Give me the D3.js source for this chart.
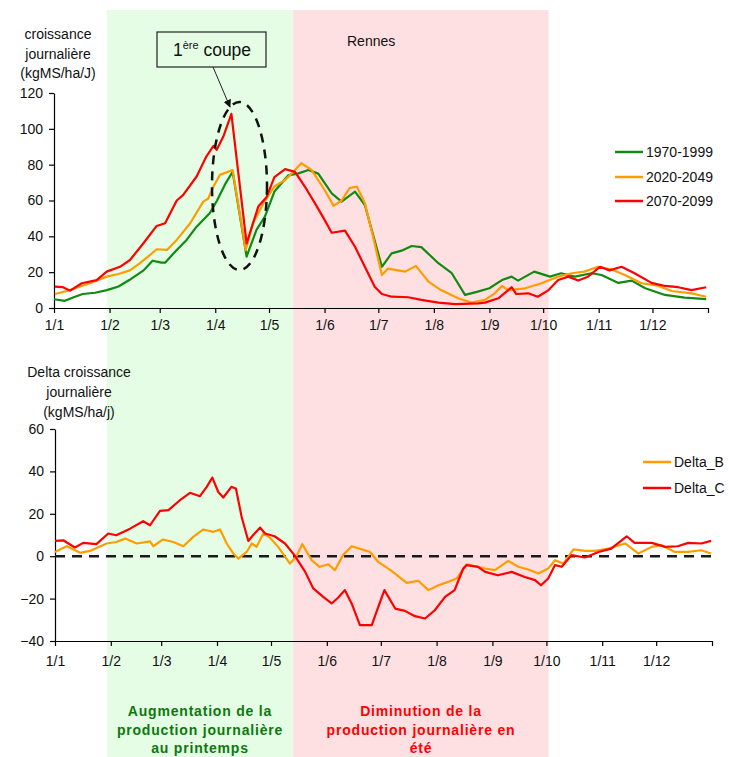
<!DOCTYPE html>
<html><head><meta charset="utf-8">
<script src="https://cdn.jsdelivr.net/npm/d3@7"></script>
<style>body{margin:0;background:#fff}svg{display:block;font-family:'Liberation Sans',Arial,sans-serif}</style>
</head><body>
<script>
// ---------- DATA ----------
const monthStarts = [0,31,59,90,120,151,181,212,243,273,304,334,365];
const monthLabels = ["1/1","1/2","1/3","1/4","1/5","1/6","1/7","1/8","1/9","1/10","1/11","1/12",""];
const topTicks = [0,20,40,60,80,100,120];
const bottomTicks = [-40,-20,0,20,40,60];
const seriesNamesTop = ["1970-1999","2020-2049","2070-2099"];
const seriesNamesBottom = ["Delta_B","Delta_C"];
const colorGreen = "#108a10", colorOrange = "#ff9d00", colorRed = "#ff0000";
const bandSpring = [29.5, 133.5];
const bandSummer = [133.5, 276];

const green1970 = [[0,4.9],[6,4],[11,6],[16,7.8],[23,8.5],[29.5,10],[36,12],[42,15.6],[50,21],[55,26.4],[60,25.3],[62,25.3],[68.5,32.4],[74,38],[79.6,45.4],[87,53],[91,60],[96,70],[99.7,76],[107.5,28.7],[113,43.6],[117.7,51],[120,57],[123,65],[130.7,74],[136,75],[142,77],[147.5,75],[155,64],[160.5,59.4],[168,65],[173.5,57.5],[177.3,43.6],[183,23],[188.4,30.5],[194,32],[199.6,34.6],[205,34],[214.5,25],[222,19.4],[229.4,7.3],[236,9],[243,11],[250,15.6],[255.4,17.5],[259,15.3],[268,20.3],[276.8,17.5],[283,19.4],[290.7,17.5],[300,19.4],[305.6,18.4],[315,14],[322.4,15.3],[330,11],[341,7.3],[352,5.8],[364,4.9]];
const orange2020 = [[0.5,7.8],[9,10],[20,13.8],[29.4,17.5],[36,19],[42.4,21],[48,25],[53.6,29.6],[57.3,32.8],[63,32.4],[68.5,38],[76,47.3],[83.3,59.4],[86,61],[89,67.8],[92.6,74.3],[99.7,77],[107,32.4],[111,47.3],[117,58.5],[123,67.8],[129,71.5],[132.6,75],[138,80.8],[143.8,77],[151,66],[156,57],[160.5,60],[165,66.9],[169,67.8],[173.5,58.5],[178,40],[183,18.4],[186.5,22],[192,21],[196,20.3],[202,23.5],[209,14.7],[216,10],[225.6,5.4],[233,3],[240.5,4.5],[246,8.2],[250,12.3],[253.5,10],[263,11],[272,13.8],[281.4,17.5],[289,19.4],[296,20.3],[303.7,23],[311,21.6],[318.6,18.4],[328,13.8],[337,12.5],[344.7,9.5],[355.8,8.2],[364,6.3]];
const red2070 = [[0.5,11.9],[5,11.6],[9,9.7],[15.5,13.8],[23.8,15.6],[29.4,20.3],[36.8,23],[42.4,26.8],[49.8,36],[57.3,45.8],[62,47.3],[68.5,60],[72,63],[79.6,73.4],[85,84.5],[89,90.5],[90.8,88.3],[94.5,95.7],[99,108.4],[107.5,36],[114,56.6],[118.7,62],[123,73],[129,77.5],[134.5,76],[140,67.8],[145.6,58.5],[150,51],[155,42],[162.4,43.2],[168,34.2],[173.5,23],[179,11.9],[183,7.8],[188.4,6.3],[197.7,6],[205,4.5],[214.5,3],[223.8,2.2],[236.8,2.6],[240.5,3],[248,5.4],[253.5,10],[255.4,11.6],[258,7.8],[264.7,8.2],[270,6.3],[276,10],[281.4,15.6],[287,17.5],[292.6,15.3],[298,17.5],[304.7,23],[310,21],[316.8,23],[324,19.4],[333.5,14],[341,12.3],[348.4,11.6],[355.8,10],[364,11.6]];
const deltaB = [[0,2],[6.5,4.7],[14,1.6],[19.4,2.5],[28.7,6],[34,6.7],[39,8.3],[45.4,6],[52.8,7],[54.6,4.7],[60,7.9],[65.7,6.7],[71.3,4.7],[76.8,9.1],[82.4,12.6],[88,11.5],[91.7,12.6],[95.4,6],[99,1.3],[101.8,-1.1],[106.5,2],[109.3,6],[112,4.4],[115.7,10.7],[119,9],[124,4.4],[130.5,-3.5],[134,-0.3],[137.4,5.7],[142.6,-1.9],[147,-5],[151.8,-3.8],[155.5,-6.6],[160,0.5],[164.8,4.7],[170.4,3.2],[175,2],[179.6,-2.7],[187,-6.9],[195.4,-12.6],[201.8,-11.6],[207.4,-16],[213,-13.7],[218.5,-12.1],[223.2,-10.5],[228.7,-3.8],[235,-5],[239,-5.8],[244.4,-6.6],[251.8,-2.2],[257.4,-5],[263,-6.3],[268.5,-8.2],[274,-5.8],[277.8,-1.9],[282.4,-3.5],[288,3.2],[294.4,2.5],[300,2.5],[307.4,3.6],[316.7,6],[324,1.3],[331.5,4.4],[337,5.2],[344.4,2],[351.8,2],[359,2.8],[364.5,1.3]];
const deltaC = [[0,7.2],[4.6,7.5],[11,4.1],[15.7,6.3],[23,5.7],[29.6,10.7],[34,9.9],[41.7,13],[49,16.5],[52.8,14.6],[58.3,21.4],[63,21.7],[69.4,26.4],[75,29.9],[80.5,28.3],[84.3,32.7],[87.4,37.1],[90.7,30.3],[93.5,27.7],[98,32.7],[100.5,31.9],[103.7,18.5],[107.4,7.2],[110,9.9],[114,13.5],[116.7,10.7],[122,9.4],[127.8,6],[133,0.5],[139,-7.4],[143.5,-15.2],[149,-19.2],[153.7,-22.3],[157.4,-19.5],[161,-16],[164.8,-22.3],[169.4,-32.5],[176,-32.5],[179.6,-23.9],[183,-16],[189,-24.7],[194.4,-25.8],[200,-28.3],[205.6,-29.4],[211,-25.5],[216.7,-19.2],[222,-16],[226.8,-5.8],[228.7,-4.2],[235,-5],[239,-7.4],[246,-9],[253.7,-7.4],[261,-9.8],[266.7,-11.3],[270,-13.7],[274,-10.5],[277.8,-4.2],[281.5,-5],[287,0.5],[294.4,-0.6],[302,2],[309,3.6],[317.6,9.4],[322,6.3],[331.5,6.3],[339,4.4],[346,4.7],[351.8,6.3],[359,6],[364.5,7.2]];

// ---------- CHART ----------
const W = 729, H = 757;
const svg = d3.select("body").append("svg").attr("width", W).attr("height", H);

const xTop = d3.scaleLinear().domain([0,365]).range([54,708]);
const yTop = d3.scaleLinear().domain([0,120]).range([308,93]);
const xBot = d3.scaleLinear().domain([0,365]).range([55,712]);
const yBot = d3.scaleLinear().domain([-40,60]).range([641,429]);

// background bands
svg.append("rect").attr("x", xTop(bandSpring[0])).attr("y", 10)
  .attr("width", xTop(bandSpring[1]) - xTop(bandSpring[0])).attr("height", H - 10).attr("fill", "#e4fde4");
svg.append("rect").attr("x", xTop(bandSummer[0])).attr("y", 10)
  .attr("width", xTop(bandSummer[1]) - xTop(bandSummer[0])).attr("height", H - 10).attr("fill", "#ffe0e2");

function styleAxis(g){
  g.selectAll("path.domain").attr("stroke","#000").attr("stroke-width",1.2);
  g.selectAll(".tick line").attr("stroke","#000").attr("stroke-width",1.2);
  g.selectAll("text").attr("font-size","14px").attr("fill","#111").attr("font-family","'Liberation Sans',Arial,sans-serif");
}

// top axes
svg.append("g").attr("transform",`translate(0,${yTop(0)})`)
  .call(d3.axisBottom(xTop).tickValues(monthStarts).tickFormat((d,i)=>monthLabels[i]).tickSize(5).tickSizeOuter(0).tickPadding(7))
  .call(styleAxis);
svg.append("g").attr("transform",`translate(${xTop(0)},0)`)
  .call(d3.axisLeft(yTop).tickValues(topTicks).tickSize(5).tickSizeOuter(0).tickPadding(6))
  .call(styleAxis);

// bottom axes
svg.append("g").attr("transform",`translate(0,${yBot(-40)})`)
  .call(d3.axisBottom(xBot).tickValues(monthStarts).tickFormat((d,i)=>monthLabels[i]).tickSize(5).tickSizeOuter(0).tickPadding(10))
  .call(styleAxis);
svg.append("g").attr("transform",`translate(${xBot(0)},0)`)
  .call(d3.axisLeft(yBot).tickValues(bottomTicks).tickSize(5).tickSizeOuter(0).tickPadding(6))
  .call(styleAxis);

// zero line bottom
svg.append("line").attr("x1", xBot(0)).attr("x2", xBot(365)).attr("y1", yBot(0)).attr("y2", yBot(0))
  .attr("stroke","#1a1a1a").attr("stroke-width",2.5).attr("stroke-dasharray","10,7");

// lines
const lineTop = d3.line().x(d=>xTop(d[0])).y(d=>yTop(d[1]));
const lineBot = d3.line().x(d=>xBot(d[0])).y(d=>yBot(d[1]));
[[green1970,colorGreen],[orange2020,colorOrange],[red2070,colorRed]].forEach(([d,c])=>{
  svg.append("path").datum(d).attr("d",lineTop).attr("fill","none").attr("stroke",c).attr("stroke-width",2.2).attr("stroke-linejoin","round");
});
[[deltaB,colorOrange],[deltaC,colorRed]].forEach(([d,c])=>{
  svg.append("path").datum(d).attr("d",lineBot).attr("fill","none").attr("stroke",c).attr("stroke-width",2.2).attr("stroke-linejoin","round");
});

// axis titles
function multiText(lines, cx, y0, dy){
  const t = svg.append("text").attr("text-anchor","middle").attr("font-size","14px").attr("fill","#111");
  lines.forEach((l,i)=>t.append("tspan").attr("x",cx).attr("y",y0+i*dy).text(l));
  return t;
}
multiText(["croissance","journalière","(kgMS/ha/J)"], 58, 39, 19.5);
multiText(["Delta croissance","journalière","(kgMS/ha/j)"], 79, 377, 20);

// Rennes
svg.append("text").attr("x",347).attr("y",46).attr("font-size","14px").attr("fill","#111").text("Rennes");

// annotation box
svg.append("rect").attr("x",157).attr("y",32).attr("width",109).attr("height",35).attr("fill","none").attr("stroke","#222").attr("stroke-width",1.2);
const ann = svg.append("text").attr("x",212).attr("y",56).attr("text-anchor","middle").attr("font-size","17.5px").attr("fill","#111");
ann.append("tspan").text("1");
ann.append("tspan").attr("font-size","11px").attr("dy",-7).text("ère");
ann.append("tspan").attr("dy",7).text(" coupe");

// arrow
svg.append("defs").append("marker").attr("id","arr").attr("viewBox","0 0 10 10").attr("refX",9).attr("refY",5)
  .attr("markerWidth",8).attr("markerHeight",8).attr("orient","auto")
  .append("path").attr("d","M0,0 L10,5 L0,10 z").attr("fill","#111");
svg.append("line").attr("x1",213).attr("y1",67).attr("x2",230).attr("y2",107).attr("stroke","#222").attr("stroke-width",1).attr("marker-end","url(#arr)");

// dashed ellipse
svg.append("ellipse").attr("cx",239.5).attr("cy",186).attr("rx",27.5).attr("ry",84)
  .attr("fill","none").attr("stroke","#111").attr("stroke-width",2.5).attr("stroke-dasharray","9,7");

// legends
function legend(names, colors, x, ys){
  names.forEach((n,i)=>{
    svg.append("line").attr("x1",x).attr("x2",x+28).attr("y1",ys[i]).attr("y2",ys[i]).attr("stroke",colors[i]).attr("stroke-width",2.5);
    svg.append("text").attr("x",x+31).attr("y",ys[i]+5).attr("font-size","14px").attr("fill","#111").text(n);
  });
}
legend(seriesNamesTop, [colorGreen,colorOrange,colorRed], 615, [152,177,201]);
legend(seriesNamesBottom, [colorOrange,colorRed], 643, [462,488]);

// bottom annotations
function boldText(lines, cx, color){
  const t = svg.append("text").attr("text-anchor","middle").attr("font-size","14px").attr("font-weight","bold").attr("fill",color).attr("letter-spacing","0.8px");
  lines.forEach((l,i)=>t.append("tspan").attr("x",cx).attr("y",716+i*18.5).text(l));
}
boldText(["Augmentation de la","production journalière","au printemps"], 200, "#0d780d");
boldText(["Diminution de la","production journalière en","été"], 421, "#ff0000");
</script>
</body></html>
